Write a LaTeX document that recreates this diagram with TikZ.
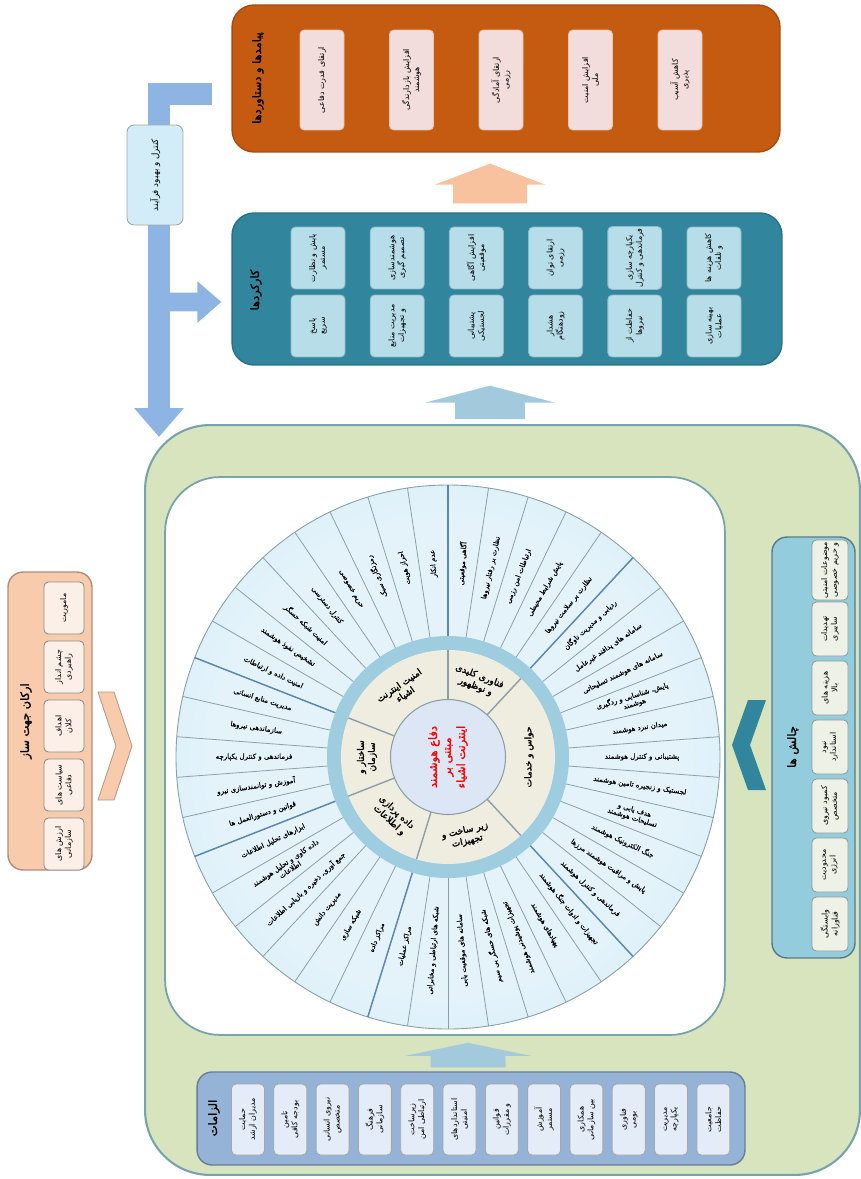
\documentclass[tikz,border=0pt]{standalone}
\usepackage{fontspec}
\usetikzlibrary{arrows.meta, positioning, calc}
\TeXXeTstate=1
\newfontfamily\fafont[Script=Arabic]{DejaVu Sans}
\newfontfamily\fasemi[Script=Arabic,FakeBold=0.7]{DejaVu Sans}
\newfontfamily\fabold[Script=Arabic,FakeBold=2]{DejaVu Sans}
\newcommand{\fa}[1]{{\fafont\beginR #1\endR}}
\newcommand{\fas}[1]{{\fasemi\beginR #1\endR}}
\newcommand{\fab}[1]{{\fabold\beginR #1\endR}}

\definecolor{outbrown}{HTML}{C55A11}
\definecolor{outitemfill}{HTML}{F2DDDC}
\definecolor{arrowpeach}{HTML}{F7C29D}
\definecolor{functeal}{HTML}{31859C}
\definecolor{funcitemfill}{HTML}{B7DEE8}
\definecolor{arrowsky}{HTML}{A3C9DC}
\definecolor{ctrlblue}{HTML}{8EB4E3}
\definecolor{notecyan}{HTML}{D2EDF7}
\definecolor{framegreen}{HTML}{D7E4BD}
\definecolor{frameedge}{HTML}{77A3AE}
\definecolor{cellin}{HTML}{E4F3FA}
\definecolor{cellout}{HTML}{ACDCF1}
\definecolor{spokegray}{HTML}{8C9EA6}
\definecolor{sectorblue}{HTML}{5A86B0}
\definecolor{ringblue}{HTML}{9FCDE0}
\definecolor{sectorbeige}{HTML}{EFEDDF}
\definecolor{hubfill}{HTML}{DCE6F4}
\definecolor{pillarpeach}{HTML}{F8CBAD}
\definecolor{pillaritemfill}{HTML}{FBEFE8}
\definecolor{challblue}{HTML}{93CDDD}
\definecolor{challitemfill}{HTML}{EEF1E6}
\definecolor{reqblue}{HTML}{95B3D7}
\definecolor{reqitemfill}{HTML}{E4ECF7}

\pgfdeclareradialshading{wheelshade}{\pgfpoint{0bp}{0bp}}{color(0bp)=(cellin); color(22bp)=(cellin); color(50bp)=(cellout); color(100bp)=(cellout)}

\begin{document}
\begin{tikzpicture}[x=0.02cm, y=0.02cm,
    container/.style={rounded corners=0.44cm, line width=0.8pt, inner sep=0pt},
    boxtitle/.style={rotate=90, font=\fontsize{6.5}{8}\selectfont, align=center, inner sep=1pt},
    itembox/.style={rotate=90, rectangle, rounded corners=2.5pt, line width=0.5pt, align=center, inner sep=1pt, font=\fontsize{4.5}{5.6}\selectfont},
    outitem/.style={itembox, fill=outitemfill, draw=outbrown!35!white, minimum width=2cm, minimum height=0.88cm},
    funcitem/.style={itembox, fill=funcitemfill, draw=functeal!55!white, minimum width=1.24cm, minimum height=1.08cm},
    pillaritem/.style={itembox, fill=pillaritemfill, draw=black!45, minimum width=1.04cm, minimum height=0.8cm},
    challitem/.style={itembox, fill=challitemfill, draw=black!40, minimum width=1.08cm, minimum height=0.72cm},
    reqitem/.style={itembox, fill=reqitemfill, draw=black!35, minimum width=1.42cm, minimum height=0.66cm},
    peacharrow/.style={draw=arrowpeach, line width=1.48cm, -{Triangle[width=2.2cm, length=0.42cm]}},
    skyarrow/.style={draw=arrowsky, line width=1.4cm, -{Triangle[width=2.6cm, length=0.34cm]}},
    ctrlarrow/.style={draw=ctrlblue, line width=0.44cm},
    spoke/.style={draw=spokegray, line width=0.45pt},
    sectorspoke/.style={draw=sectorblue, line width=0.8pt},
    spokelabel/.style={font=\fontsize{4}{4.6}\selectfont, align=center, inner sep=0pt},
    sectorlabel/.style={font=\fontsize{5.2}{6.2}\selectfont, align=center, inner sep=0pt},
]

\useasboundingbox (0,0) rectangle (861,-1179);

% === OUTCOMES (top) ===
\node[container, fill=outbrown, draw=outbrown!85!black, minimum width=10.96cm, minimum height=2.94cm] (outcomes) at (506,-78.5) {};
\node[boxtitle] (outtitle) at (258,-78) {\fab{پیامدها و دستاوردها}};
\foreach \txt [count=\i] in {
    {\fa{ارتقای قدرت دفاعی}},
    {\fa{افزایش بازدارندگی}\\\fa{هوشمند}},
    {\fa{ارتقای آمادگی}\\\fa{رزمی}},
    {\fa{افزایش امنیت}\\\fa{ملی}},
    {\fa{کاهش آسیب}\\\fa{پذیری}}} {
    \node[outitem] (out\i) at ({322+89.5*(\i-1)},-80) {\txt};
}

% === FUNCTIONS ===
\node[container, fill=functeal, draw=functeal!85!black, minimum width=11cm, minimum height=3.04cm] (functions) at (507,-289) {};
\node[boxtitle] (functitle) at (256,-290) {\fab{کارکردها}};
\foreach \txt [count=\i] in {
    {\fa{پایش و نظارت}\\\fa{مستمر}},
    {\fa{هوشمندسازی}\\\fa{تصمیم گیری}},
    {\fa{افزایش آگاهی}\\\fa{موقعیتی}},
    {\fa{ارتقای توان}\\\fa{رزمی}},
    {\fa{یکپارچه سازی}\\\fa{فرماندهی و کنترل}},
    {\fa{کاهش هزینه ها}\\\fa{و تلفات}}} {
    \node[funcitem] (fn\i) at ({318+79.2*(\i-1)},-258) {\txt};
}
\foreach \txt [count=\i from 7] in {
    {\fa{پاسخ}\\\fa{سریع}},
    {\fa{مدیریت منابع}\\\fa{و تجهیزات}},
    {\fa{پشتیبانی}\\\fa{لجستیکی}},
    {\fa{هشدار}\\\fa{زودهنگام}},
    {\fa{حفاظت از}\\\fa{نیروها}},
    {\fa{بهینه سازی}\\\fa{عملیات}}} {
    \node[funcitem] (fn\i) at ({318+79.2*(\i-7)},-326) {\txt};
}

% === MAIN FRAME ===
\node[container, rounded corners=1.3cm, fill=framegreen, draw=frameedge, line width=1.2pt, minimum width=14.3cm, minimum height=15cm] (frame) at (502.5,-800) {};
\node[container, rounded corners=1.1cm, fill=white, draw=frameedge, line width=1pt, minimum width=11.2cm, minimum height=11.16cm] (core) at (445,-756) {};

% === ARROWS BETWEEN LEVELS ===
\draw[peacharrow, shorten >=0.22cm, shorten <=0.18cm] ([xshift=-0.34cm]functions.north) -- ([xshift=-0.32cm]outcomes.south);
\draw[skyarrow, shorten >=0.4cm, shorten <=0.1cm] ([xshift=-0.25cm]frame.north) -- ([xshift=-0.34cm]functions.south);

% === PROCESS CONTROL FEEDBACK ===
\coordinate (fbin) at ([xshift=-0.38cm, yshift=-0.31cm]outcomes.west);
\coordinate (fbout) at (159,-437);
\draw[ctrlarrow, -{Triangle[width=0.96cm, length=0.58cm]}] (fbin) -- (fbin -| fbout) -- (fbout);
\draw[ctrlarrow, line width=0.38cm, -{Triangle[width=0.8cm, length=0.48cm]}] (159,-302) -- ([xshift=-0.2cm, yshift=-0.26cm]functions.west);
\node[itembox, fill=notecyan, draw=black!35, rounded corners=4pt, minimum width=2cm, minimum height=1.12cm, font=\fontsize{5}{6}\selectfont] (fbnote) at (155,-175) {\fa{کنترل و بهبود فرآیند}};

% === WHEEL ===
\coordinate (wc) at (448,-757);
\begin{scope}[shift={(wc)}]
    \shade[shading=wheelshade] (0,0) circle[radius=272];
    \draw[spokegray, line width=0.5pt] (0,0) circle[radius=272];
    \foreach \k in {0,...,41} {
        \draw[spoke] (90+\k*360/42:112) -- (90+\k*360/42:272);
    }
    \foreach \k in {0,8,13,19,26,37} {
        \draw[sectorspoke] (90+\k*360/42:112) -- (90+\k*360/42:272);
    }
    \fill[ringblue] (0,0) circle[radius=121];
    \fill[sectorbeige] (0,0) circle[radius=107];
    \foreach \k in {0,8,13,19,26,37} {
        \draw[spokegray, line width=0.8pt] (90+\k*360/42:55) -- (90+\k*360/42:107);
    }
    % outer labels
    \foreach \k/\txt in {
        0/{\fas{عدم انکار}},
        1/{\fas{احراز هویت}},
        2/{\fas{رمزنگاری سبک}},
        3/{\fas{حریم خصوصی}},
        4/{\fas{کنترل دسترسی}},
        5/{\fas{امنیت شبکه حسگر}},
        6/{\fas{تشخیص نفوذ هوشمند}},
        7/{\fas{امنیت داده و ارتباطات}},
        8/{\fas{مدیریت منابع انسانی}},
        9/{\fas{سازماندهی نیروها}},
        10/{\fas{فرماندهی و کنترل یکپارچه}},
        11/{\fas{آموزش و توانمندسازی نیرو}},
        12/{\fas{قوانین و دستورالعمل ها}},
        13/{\fas{ابزارهای تحلیل اطلاعات}},
        14/{\fas{داده کاوی و تحلیل هوشمند}\\\fas{اطلاعات}},
        15/{\fas{جمع آوری، ذخیره و بازیابی اطلاعات}},
        16/{\fas{مدیریت دانش}},
        17/{\fas{شبکه سازی}},
        18/{\fas{مراکز داده}},
        19/{\fas{مراکز عملیات}},
        20/{\fas{شبکه های ارتباطی و مخابراتی}},
        21/{\fas{سامانه های موقعیت یابی}},
        22/{\fas{شبکه های حسگر بی سیم}},
        23/{\fas{تجهیزات پوشیدنی هوشمند}},
        24/{\fas{پهپادهای هوشمند}},
        25/{\fas{تجهیزات و ادوات جنگ هوشمند}},
        26/{\fas{فرماندهی و کنترل هوشمند}},
        27/{\fas{پایش و مراقبت هوشمند مرزها}},
        28/{\fas{جنگ الکترونیک هوشمند}},
        29/{\fas{هدف یابی و}\\\fas{تسلیحات هوشمند}},
        30/{\fas{لجستیک و زنجیره تامین هوشمند}},
        31/{\fas{پشتیبانی و کنترل هوشمند}},
        32/{\fas{میدان نبرد هوشمند}},
        33/{\fas{پایش، شناسایی و ردگیری}\\\fas{هوشمند}},
        34/{\fas{سامانه های هوشمند تسلیحاتی}},
        35/{\fas{سامانه های پدافند غیرعامل}},
        36/{\fas{ردیابی و مدیریت ناوگان}},
        37/{\fas{نظارت بر سلامت نیروها}},
        38/{\fas{پایش شرایط محیطی}},
        39/{\fas{ارتباطات امن رزمی}},
        40/{\fas{نظارت بر رفتار نیروها}},
        41/{\fas{آگاهی موقعیتی}}} {
        \pgfmathsetmacro{\ang}{90+(\k+0.5)*360/42}
        \pgfmathsetmacro{\rot}{mod(\ang,180)}
        \pgfmathsetmacro{\rot}{\rot>115 ? \rot-180 : \rot}
        \node[spokelabel, rotate=\rot] (lab\k) at (\ang:194) {\txt};
    }
    % inner sectors
    \foreach \a/\txt [count=\n] in {
        124.3/{\fab{امنیت اینترنت}\\\fab{اشیاء}},
        180/{\fab{ساختار و}\\\fab{سازمان}},
        227.1/{\fab{داده پردازی}\\\fab{و اطلاعات}},
        282.9/{\fab{زیر ساخت و}\\\fab{تجهیزات}},
        0/{\fab{حواس و خدمات}},
        68.6/{\fab{فناوری کلیدی}\\\fab{و نوظهور}}} {
        \pgfmathsetmacro{\rot}{mod(\a+90,180)}
        \pgfmathsetmacro{\rot}{\rot>115 ? \rot-180 : \rot}
        \node[sectorlabel, rotate=\rot] (sec\n) at (\a:81) {\txt};
    }
\end{scope}
\node[circle, fill=hubfill, draw=spokegray, line width=0.6pt, minimum size=2.3cm, inner sep=0pt] (hub) at (wc) {};
\node[rotate=90, text=red, font=\fontsize{6.5}{8}\selectfont, align=center, inner sep=0pt] (hubtext) at (wc) {\fab{دفاع هوشمند}\\\fab{مبتنی بر}\\\fab{اینترنت اشیاء}};

% === PILLARS (left) ===
\node[container, rounded corners=0.3cm, fill=pillarpeach, draw=pillarpeach!70!black, minimum width=1.68cm, minimum height=5.96cm] (pillars) at (50,-721) {};
\node[boxtitle] (piltitle) at (26,-721) {\fab{ارکان جهت ساز}};
\foreach \txt [count=\i] in {
    {\fa{ماموریت}},
    {\fa{چشم انداز}\\\fa{راهبردی}},
    {\fa{اهداف}\\\fa{کلان}},
    {\fa{سیاست های}\\\fa{دفاعی}},
    {\fa{ارزش های}\\\fa{سازمانی}}} {
    \node[pillaritem] (pil\i) at (64,{-608-59*(\i-1)}) {\txt};
}
\fill[pillarpeach, draw=pillarpeach!75!black, line width=0.5pt] (98,-692) -- (114,-692) -- (132,-746) -- (114,-800) -- (98,-800) -- (116,-746) -- cycle;

% === CHALLENGES (right) ===
\node[container, rounded corners=0.3cm, fill=challblue, draw=challblue!60!black, minimum width=1.66cm, minimum height=8.42cm] (challenges) at (813.5,-747.5) {};
\node[boxtitle] (chtitle) at (793,-747) {\fab{چالش ها}};
\foreach \txt [count=\i] in {
    {\fa{موضوعات امنیتی}\\\fa{و حریم خصوصی}},
    {\fa{تهدیدات}\\\fa{سایبری}},
    {\fa{هزینه های}\\\fa{بالا}},
    {\fa{نبود}\\\fa{استاندارد}},
    {\fa{کمبود نیروی}\\\fa{متخصص}},
    {\fa{محدودیت}\\\fa{انرژی}},
    {\fa{وابستگی}\\\fa{فناورانه}}} {
    \node[challitem] (ch\i) at (830,{-570-59*(\i-1)}) {\txt};
}
\fill[functeal] (766,-700) -- (748,-700) -- (732,-745) -- (748,-790) -- (766,-790) -- (750,-745) -- cycle;

% === REQUIREMENTS (bottom) ===
\node[container, rounded corners=0.3cm, fill=reqblue, draw=reqblue!70!black, minimum width=10.96cm, minimum height=1.86cm] (reqs) at (471,-1118.5) {};
\node[boxtitle] (reqtitle) at (214,-1118) {\fab{الزامات}};
\foreach \txt [count=\i] in {
    {\fa{حمایت}\\\fa{مدیران ارشد}},
    {\fa{تامین}\\\fa{بودجه کافی}},
    {\fa{نیروی انسانی}\\\fa{متخصص}},
    {\fa{فرهنگ}\\\fa{سازمانی}},
    {\fa{زیرساخت}\\\fa{ارتباطی امن}},
    {\fa{استانداردهای}\\\fa{امنیتی}},
    {\fa{قوانین}\\\fa{و مقررات}},
    {\fa{آموزش}\\\fa{مستمر}},
    {\fa{همکاری}\\\fa{بین سازمانی}},
    {\fa{فناوری}\\\fa{بومی}},
    {\fa{مدیریت}\\\fa{یکپارچه}},
    {\fa{جامعیت}\\\fa{حفاظت}}} {
    \node[reqitem] (req\i) at ({248+42.3*(\i-1)},-1119.5) {\txt};
}
\draw[skyarrow, line width=1.5cm, -{Triangle[width=2.5cm, length=0.26cm]}, shorten >=0.14cm, shorten <=0.08cm] ([xshift=-0.06cm]reqs.north) -- ([xshift=0.46cm]core.south);

\end{tikzpicture}
\end{document}
